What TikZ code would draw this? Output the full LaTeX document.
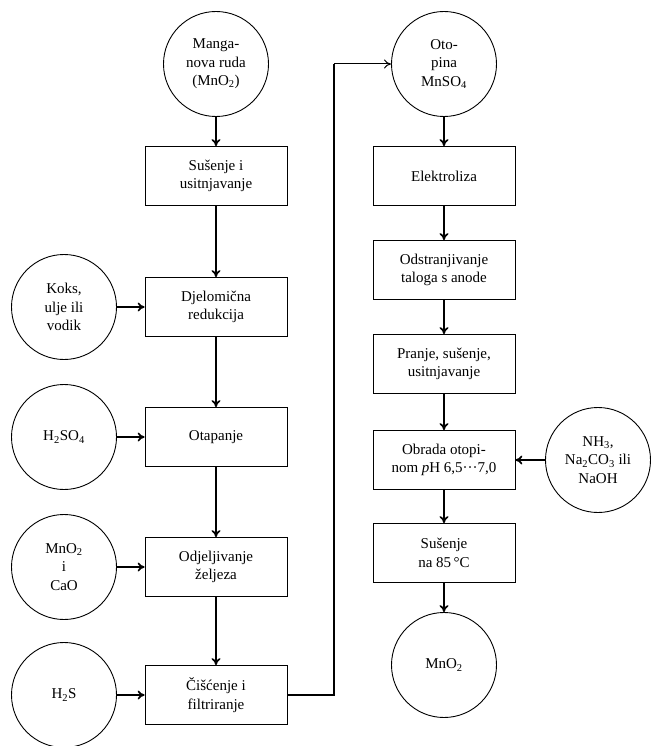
\documentclass[tikz,border=0pt]{standalone}
\usepackage{fontspec}
\setmainfont{Liberation Serif}
\usetikzlibrary{arrows.meta}

\begin{document}
\begin{tikzpicture}[x=1pt, y=-1pt,
    font=\fontsize{15}{18.5}\selectfont,
    proc/.style={draw, line width=0.9pt, minimum width=142pt, minimum height=59pt,
      align=center, inner sep=2pt},
    tvar/.style={draw, circle, line width=0.9pt, minimum size=105pt, align=center,
      inner sep=0pt},
    tok/.style={line width=1.7pt, -{To[length=7pt,width=9pt]}}]

  \useasboundingbox (0,0) rectangle (650,746);

  % Left column
  \node[tvar] (ruda) at (216,64) {Manga-\\nova ruda\\(MnO\textsubscript{2})};
  \node[proc] (susenje) at (216,176) {Sušenje i\\usitnjavanje};
  \node[proc] (redukcija) at (216,307) {Djelomična\\redukcija};
  \node[proc] (otapanje) at (216,437) {Otapanje};
  \node[proc] (zeljezo) at (216,567) {Odjeljivanje\\željeza};
  \node[proc] (filtr) at (216,695) {Čišćenje i\\filtriranje};

  % Additions on the left
  \node[tvar] (koks) at (64,307) {Koks,\\ulje ili\\vodik};
  \node[tvar] (kiselina) at (64,437) {H\textsubscript{2}SO\textsubscript{4}};
  \node[tvar] (cao) at (64,567) {MnO\textsubscript{2}\\i\\CaO};
  \node[tvar] (sulfid) at (64,695) {H\textsubscript{2}S};

  % Right column
  \node[tvar] (otopina) at (444,64) {Oto-\\pina\\MnSO\textsubscript{4}};
  \node[proc] (elektro) at (444,176) {Elektroliza};
  \node[proc] (anoda) at (444,270) {Odstranjivanje\\taloga s anode};
  \node[proc] (pranje) at (444,364) {Pranje, sušenje,\\usitnjavanje};
  \node[proc] (obrada) at (444,460) {Obrada otopi-\\nom \textit{p}H 6,5···7,0};
  \node[proc] (susenje85) at (444,553) {Sušenje\\na 85\,°C};
  \node[tvar] (produkt) at (444,665) {MnO\textsubscript{2}};
  \node[tvar] (luzina) at (598,460) {NH\textsubscript{3},\\Na\textsubscript{2}CO\textsubscript{3} ili\\NaOH};

  % Flow
  \draw[tok] (ruda) -- (susenje);
  \draw[tok] (susenje) -- (redukcija);
  \draw[tok] (redukcija) -- (otapanje);
  \draw[tok] (otapanje) -- (zeljezo);
  \draw[tok] (zeljezo) -- (filtr);
  \draw[tok] (koks) -- (redukcija);
  \draw[tok] (kiselina) -- (otapanje);
  \draw[tok] (cao) -- (zeljezo);
  \draw[tok] (sulfid) -- (filtr);

  % Loop to the solution
  \coordinate (kd) at (334,695);
  \coordinate (kg) at (334,64);
  \draw[line width=1.7pt] (filtr.east) -- (kd) -- (kg);
  \draw[line width=1pt, -{To[length=7pt,width=9pt]}] (kg) -- (otopina.west);

  \draw[tok] (otopina) -- (elektro);
  \draw[tok] (elektro) -- (anoda);
  \draw[tok] (anoda) -- (pranje);
  \draw[tok] (pranje) -- (obrada);
  \draw[tok] (obrada) -- (susenje85);
  \draw[tok] (susenje85) -- (produkt);
  \draw[tok] (luzina) -- (obrada);

\end{tikzpicture}
\end{document}
